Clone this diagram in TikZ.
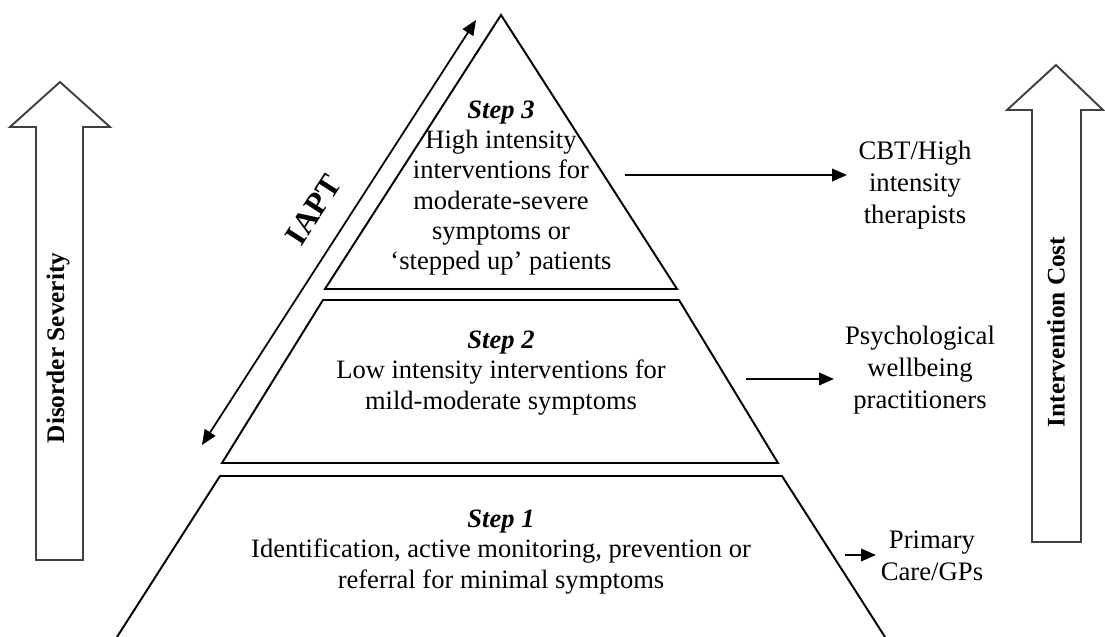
\documentclass[tikz,border=0pt]{standalone}
\usepackage{fontspec}
\setmainfont{Liberation Serif}
\usetikzlibrary{arrows.meta}

\begin{document}
\begin{tikzpicture}[
    >={Triangle[length=3mm,width=2.5mm]},
    tier/.style={line width=1.1pt, line join=miter},
    stepnode/.style={align=center, inner sep=0pt, font=\fontsize{15.1}{17.2}\selectfont},
    sidelabel/.style={align=center, inner sep=0pt, font=\fontsize{15.2}{18.2}\selectfont},
    blockarrow/.style={draw=black!75, line width=1.1pt, fill=white},
    axistext/.style={rotate=90, inner sep=0pt, font=\bfseries\fontsize{14.4}{17}\selectfont},
    ]
    \useasboundingbox (0,0) rectangle (22.1,12.74);

    % pyramid
    \draw[tier] (6.50,6.96) -- (10.02,12.44) -- (13.54,6.96) -- cycle;
    \draw[tier] (6.46,6.74) -- (13.58,6.74) -- (15.56,3.48) -- (4.44,3.48) -- cycle;
    \draw[tier] (2.34,0) -- (4.40,3.22) -- (15.64,3.22) -- (17.70,0);

    \node[stepnode] (step3) at (10.02,8.98) {\textbf{\textit{Step 3}}\\High intensity\\interventions for\\moderate-severe\\symptoms or\\`stepped up' patients};
    \node[stepnode] (step2) at (10.02,5.28) {\textbf{\textit{Step 2}}\\Low intensity interventions for\\mild-moderate symptoms};
    \node[stepnode] (step1) at (10.02,1.70) {\textbf{\textit{Step 1}}\\Identification, active monitoring, prevention or\\referral for minimal symptoms};

    % who delivers
    \node[sidelabel] (cbt) at (18.30,9.04) {CBT/High\\intensity\\therapists};
    \node[sidelabel] (pwp) at (18.40,5.34) {Psychological\\wellbeing\\practitioners};
    \node[sidelabel] (gp)  at (18.64,1.62) {Primary\\Care/GPs};

    \coordinate (s3a) at (12.50,9.24);
    \coordinate (s3b) at (16.94,9.24);
    \coordinate (s2a) at (14.92,5.16);
    \coordinate (s2b) at (16.68,5.16);
    \coordinate (s1a) at (16.90,1.64);
    \coordinate (s1b) at (17.52,1.64);
    \draw[line width=1.2pt, ->] (s3a) -- (s3b);
    \draw[line width=1.2pt, ->] (s2a) -- (s2b);
    \draw[line width=1.2pt, ->] (s1a) -- (s1b);

    % IAPT
    \coordinate (iaptlo) at (4.04,3.84);
    \coordinate (iapthi) at (9.52,12.34);
    \draw[line width=1pt, <->] (iaptlo) -- node[sloped, above=4.5mm, pos=0.51, inner sep=0pt, font=\bfseries\fontsize{18}{20}\selectfont] (iapt) {IAPT} (iapthi);

    % side arrows
    \draw[blockarrow] (0.72,1.54) -- (0.72,10.2) -- (0.2,10.2) -- (1.2,11.1) -- (2.2,10.2) -- (1.66,10.2) -- (1.66,1.54) -- cycle;
    \node[axistext] (severity) at (1.16,5.78) {Disorder Severity};
    \draw[blockarrow] (20.64,1.9) -- (20.64,10.54) -- (20.14,10.54) -- (21.12,11.44) -- (22.06,10.54) -- (21.62,10.54) -- (21.62,1.9) -- cycle;
    \node[axistext] (cost) at (21.12,6.1) {Intervention Cost};
\end{tikzpicture}
\end{document}
